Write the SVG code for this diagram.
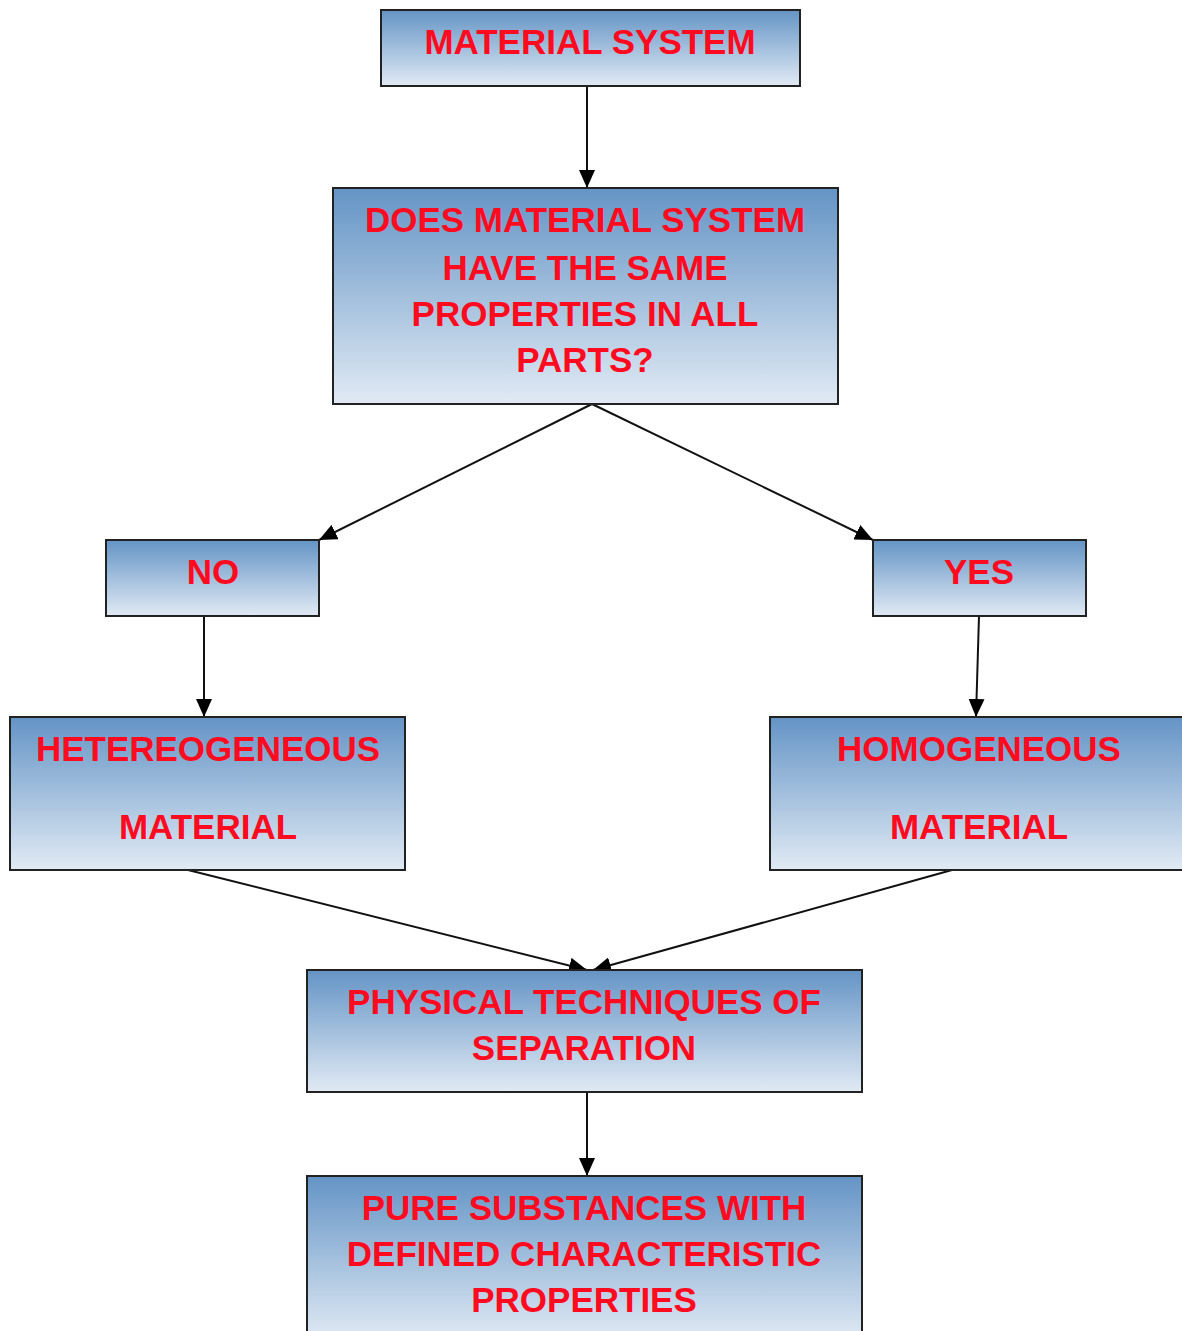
<svg xmlns="http://www.w3.org/2000/svg" width="1182" height="1331" viewBox="0 0 1182 1331">
<defs>
<linearGradient id="g" x1="0" y1="0" x2="0" y2="1">
<stop offset="0" stop-color="#6494c5"/>
<stop offset="1" stop-color="#e1eaf4"/>
</linearGradient>
<marker id="ah" markerWidth="18" markerHeight="16" refX="18" refY="8" orient="auto" markerUnits="userSpaceOnUse">
<path d="M0,0 L18,8 L0,16 Z" fill="#000"/>
</marker>
<style>
.box{fill:url(#g);stroke:#222;stroke-width:2}
.t{font-family:"Liberation Sans",Arial,sans-serif;font-weight:bold;font-size:35px;fill:#ff0a1e;text-anchor:middle}
.c{stroke:#111;stroke-width:2;fill:none;marker-end:url(#ah)}
</style>
</defs>
<rect width="1182" height="1331" fill="#fff"/>
<g id="connectors">
<line class="c" x1="587" y1="86" x2="587" y2="188"/>
<line class="c" x1="592" y1="404" x2="319" y2="540"/>
<line class="c" x1="592" y1="404" x2="873" y2="540"/>
<line class="c" x1="204" y1="616" x2="204" y2="717"/>
<line class="c" x1="979" y1="616" x2="976" y2="717"/>
<line class="c" x1="188" y1="870" x2="587" y2="970"/>
<line class="c" x1="952" y1="870" x2="593" y2="970"/>
<line class="c" x1="587" y1="1092" x2="587" y2="1176"/>
</g>
<g id="n1">
<rect class="box" x="381" y="10" width="419" height="76"/>
<text class="t" x="590" y="54">MATERIAL SYSTEM</text>
</g>
<g id="n2">
<rect class="box" x="333" y="188" width="505" height="216"/>
<text class="t" x="585" y="232">DOES MATERIAL SYSTEM</text>
<text class="t" x="585" y="280">HAVE THE SAME</text>
<text class="t" x="585" y="326">PROPERTIES IN ALL</text>
<text class="t" x="585" y="372">PARTS?</text>
</g>
<g id="n3">
<rect class="box" x="106" y="540" width="213" height="76"/>
<text class="t" x="213" y="584">NO</text>
</g>
<g id="n4">
<rect class="box" x="873" y="540" width="213" height="76"/>
<text class="t" x="979" y="584">YES</text>
</g>
<g id="n5">
<rect class="box" x="10" y="717" width="395" height="153"/>
<text class="t" x="208" y="761">HETEREOGENEOUS</text>
<text class="t" x="208" y="839">MATERIAL</text>
</g>
<g id="n6">
<rect class="box" x="770" y="717" width="420" height="153"/>
<text class="t" x="979" y="761">HOMOGENEOUS</text>
<text class="t" x="979" y="839">MATERIAL</text>
</g>
<g id="n7">
<rect class="box" x="307" y="970" width="555" height="122"/>
<text class="t" x="584" y="1014">PHYSICAL TECHNIQUES OF</text>
<text class="t" x="584" y="1060">SEPARATION</text>
</g>
<g id="n8">
<rect class="box" x="307" y="1176" width="555" height="165"/>
<text class="t" x="584" y="1220">PURE SUBSTANCES WITH</text>
<text class="t" x="584" y="1266">DEFINED CHARACTERISTIC</text>
<text class="t" x="584" y="1312">PROPERTIES</text>
</g>
</svg>
